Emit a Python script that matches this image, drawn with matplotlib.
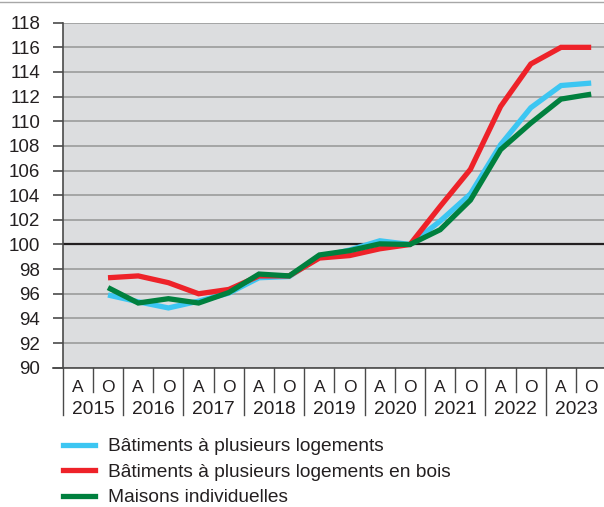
"""Indices de prix de construction - trois séries semestrielles."""
import matplotlib
matplotlib.use('Agg')
import matplotlib.pyplot as plt
from matplotlib.lines import Line2D
import matplotlib.transforms as mtransforms

plt.rcParams['font.family'] = ['Liberation Sans', 'DejaVu Sans']

years = ['2015', '2016', '2017', '2018', '2019', '2020', '2021', '2022', '2023']
halves = ['A', 'O']

# points from 2015 O to 2023 O (17 semesters)
batiments = [95.9, 95.35, 94.85, 95.4, 96.05, 97.3, 97.4, 99.0, 99.55, 100.3,
             100.0, 101.9, 104.1, 108.1, 111.1, 112.9, 113.1]
batiments_bois = [97.3, 97.45, 96.9, 96.0, 96.35, 97.45, 97.45, 98.9, 99.1, 99.65,
                  100.0, 103.1, 106.1, 111.2, 114.65, 116.0, 116.0]
maisons = [96.5, 95.25, 95.6, 95.25, 96.1, 97.6, 97.45, 99.15, 99.5, 100.05,
           100.0, 101.2, 103.6, 107.7, 109.85, 111.8, 112.2]

labels = ['Bâtiments à plusieurs logements',
          'Bâtiments à plusieurs logements en bois',
          'Maisons individuelles']
colors = ['#3cc6f2', '#ee2229', '#00803e']
series = [batiments, batiments_bois, maisons]

TXT = '#231f20'

fig = plt.figure(figsize=(6.04, 5.07), dpi=100)
fig.add_artist(Line2D([0, 1], [1 - 2 / 507, 1 - 2 / 507], color='#a7a7a7', lw=1))
ax = fig.add_axes([62.7 / 604, 139.3 / 507, 543.6 / 604, 345 / 507])
ax.set_facecolor('#dcdddf')

n_slots = len(years) * len(halves)
xs = [i + 1.5 for i in range(len(batiments))]

ax.set_ylim(90, 118)
ax.set_xlim(0, n_slots)
ax.set_yticks(range(90, 119, 2))
ax.yaxis.grid(True, color='#9b9b9b', lw=1.2)
ax.set_axisbelow(True)
ax.axhline(100, color=TXT, lw=1.6, zorder=2)

for vals, col, lab in zip(series, colors, labels):
    ax.plot(xs, vals, color=col, lw=3.8, label=lab, zorder=3,
            solid_joinstyle='miter', solid_capstyle='butt')

for side in ['top', 'right']:
    ax.spines[side].set_visible(False)
ax.spines['left'].set_color('#4a4a4a')
ax.spines['bottom'].set_color('#4a4a4a')
ax.spines['left'].set_linewidth(1.2)
ax.spines['bottom'].set_linewidth(1.2)
ax.tick_params(axis='y', length=7.2, width=1.2, color='#4a4a4a',
               labelsize=13.5, labelcolor=TXT, pad=9)
ax.set_xticks([])

# two-level category axis
trans = mtransforms.blended_transform_factory(ax.transData, ax.transAxes)
h_px = 345.0
for k in range(n_slots + 1):
    depth = 47 if k % 2 == 0 else 24
    ax.add_artist(Line2D([k, k], [0, -depth / h_px], transform=trans,
                         color='#4a4a4a', lw=1.0, clip_on=False))
for k in range(n_slots):
    ax.text(k + 0.5, -20 / h_px, halves[k % 2], transform=trans,
            ha='center', va='center', fontsize=12.5, color=TXT)
for j, yr in enumerate(years):
    ax.text(2 * j + 1, -42 / h_px, yr, transform=trans,
            ha='center', va='center', fontsize=13.8, color=TXT)
# extend bottom line left like a tick
ax.add_artist(Line2D([-10 / 543.6 * n_slots, 0], [0, 0], transform=trans,
                     color='#4a4a4a', lw=1.2, clip_on=False))

handles = [Line2D([], [], color=c, lw=3.8) for c in colors]
fig.legend(handles, labels, loc='upper left',
           bbox_to_anchor=(63 / 604, 1 - 438 / 507), frameon=False,
           fontsize=13.8, labelcolor=TXT, handlelength=1.65,
           handletextpad=0.7, labelspacing=0.42, borderpad=0,
           borderaxespad=0)

plt.savefig('out.png', dpi=100)
